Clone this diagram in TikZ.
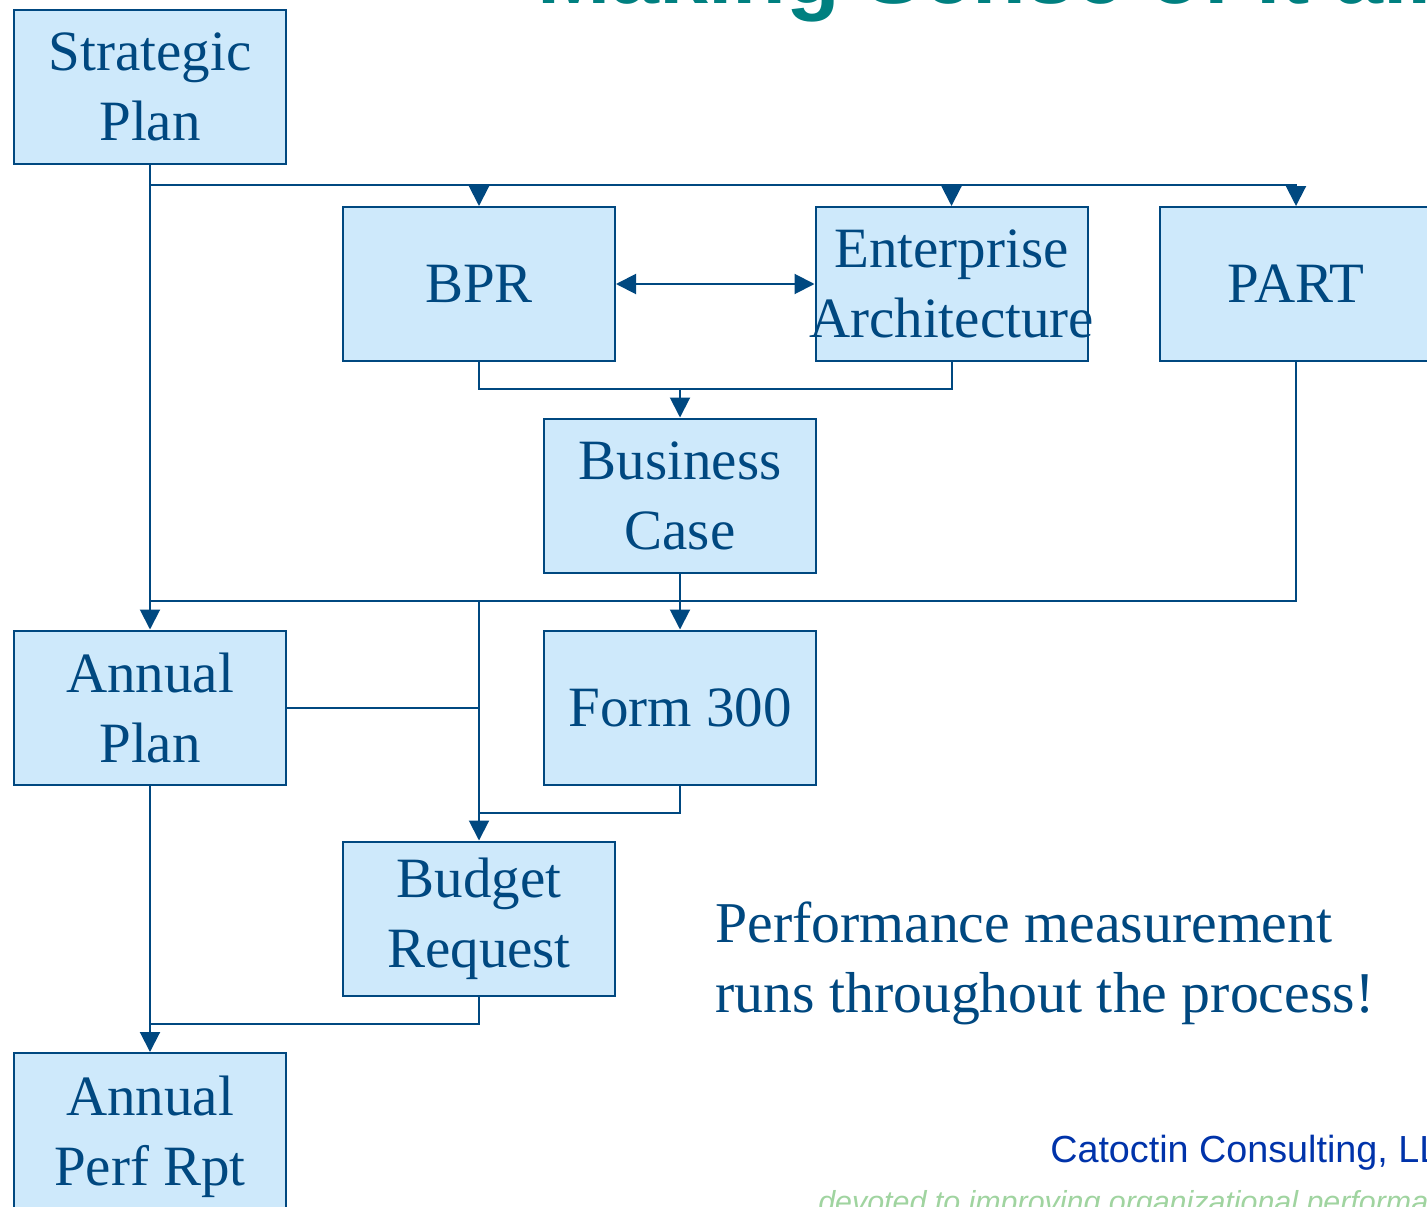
\documentclass[tikz,border=0pt]{standalone}
\usepackage{fontspec}
\setmainfont{Liberation Serif}
\newfontfamily\headsans{Liberation Sans}
\usetikzlibrary{arrows.meta}

\definecolor{inkblue}{RGB}{0,72,128}
\definecolor{boxfill}{RGB}{206,233,251}
\definecolor{titleteal}{RGB}{0,128,128}
\definecolor{firmblue}{RGB}{0,51,170}
\definecolor{taggreen}{RGB}{160,212,160}

\begin{document}
\begin{tikzpicture}[x=0.75pt,y=-0.75pt,
  stepbox/.style={rectangle,draw=inkblue,fill=boxfill,line width=1.5pt,
    minimum width=204pt,minimum height=115.5pt,inner sep=0pt,align=center,
    text=inkblue,font=\fontsize{42.75pt}{52.5pt}\selectfont},
  link/.style={draw=inkblue,line width=1.5pt},
  arr/.style={link,-{Triangle[length=15pt,width=15pt]}},
  dblarr/.style={link,{Triangle[length=15pt,width=15pt]}-{Triangle[length=15pt,width=15pt]}}]
\useasboundingbox (0,0) rectangle (1427,1206);
\fill[white] (0,0) rectangle (1427,1206);

% heading
\node[anchor=base west,inner sep=0pt,text=titleteal,
  font=\headsans\bfseries\fontsize{66pt}{70pt}\selectfont] (title) at (537,4) {Making Sense of it all};

% process boxes
\node[stepbox] (sp)   at (150,87)    {Strategic\\Plan};
\node[stepbox] (bpr)  at (479,284)   {BPR};
\node[stepbox] (ea)   at (951.5,284) {\makebox[0pt]{Enterprise}\\\makebox[0pt]{Architecture}};
\node[stepbox] (part) at (1296,284)  {PART};
\node[stepbox] (bc)   at (680,495.5) {Business\\Case};
\node[stepbox] (ap)   at (150,707.5) {Annual\\Plan};
\node[stepbox] (f300) at (680,707.5) {Form 300};
\node[stepbox] (br)   at (479,918.5) {Budget\\Request};
\node[stepbox,minimum height=126pt] (apr) at (150,1137) {Annual\\Perf Rpt};

% junction points
\coordinate (j1) at (150,185);
\coordinate (j2) at (680,389);
\coordinate (j3) at (479,601);
\coordinate (j4) at (479,813);
\coordinate (j5) at (150,1024);

% strategic plan feeds
\draw[arr] (sp.south) -- (ap.north);
\draw[arr] (j1) -| (part.north);
\draw[arr] (j1 -| bpr.north) -- (bpr.north);
\draw[arr] (j1 -| ea.north) -- (ea.north);

% BPR and EA
\draw[dblarr] (bpr.east) -- (ea.west);
\draw[link] (bpr.south) |- (j2) -| (ea.south);
\draw[arr] (j2) -- (bc.north);

% business case, PART and budget
\draw[arr] (bc.south) -- (f300.north);
\draw[link] (part.south) |- (j3 -| ap.north);
\draw[arr] (j3) -- (br.north);
\draw[link] (ap.east) -- (ap.east -| j3);
\draw[link] (f300.south) |- (j4);

% performance report
\draw[arr] (ap.south) -- (apr.north);
\draw[link] (br.south) |- (j5);

% note
\node[anchor=base west,inner sep=0pt,align=left,text=inkblue,
  font=\fontsize{43.3pt}{52.5pt}\selectfont] (note) at (715,1012)
  {Performance measurement\\runs throughout the process!};

% firm name and tagline
\node[anchor=base west,inner sep=0pt,text=firmblue,
  font=\headsans\fontsize{28.3pt}{32pt}\selectfont] (firm) at (1050,1162) {Catoctin Consulting, LLC};
\node[anchor=base west,inner sep=0pt,text=taggreen,
  font=\headsans\itshape\fontsize{22.8pt}{26pt}\selectfont] (tag) at (818,1212) {devoted to improving organizational performance};
\end{tikzpicture}
\end{document}
